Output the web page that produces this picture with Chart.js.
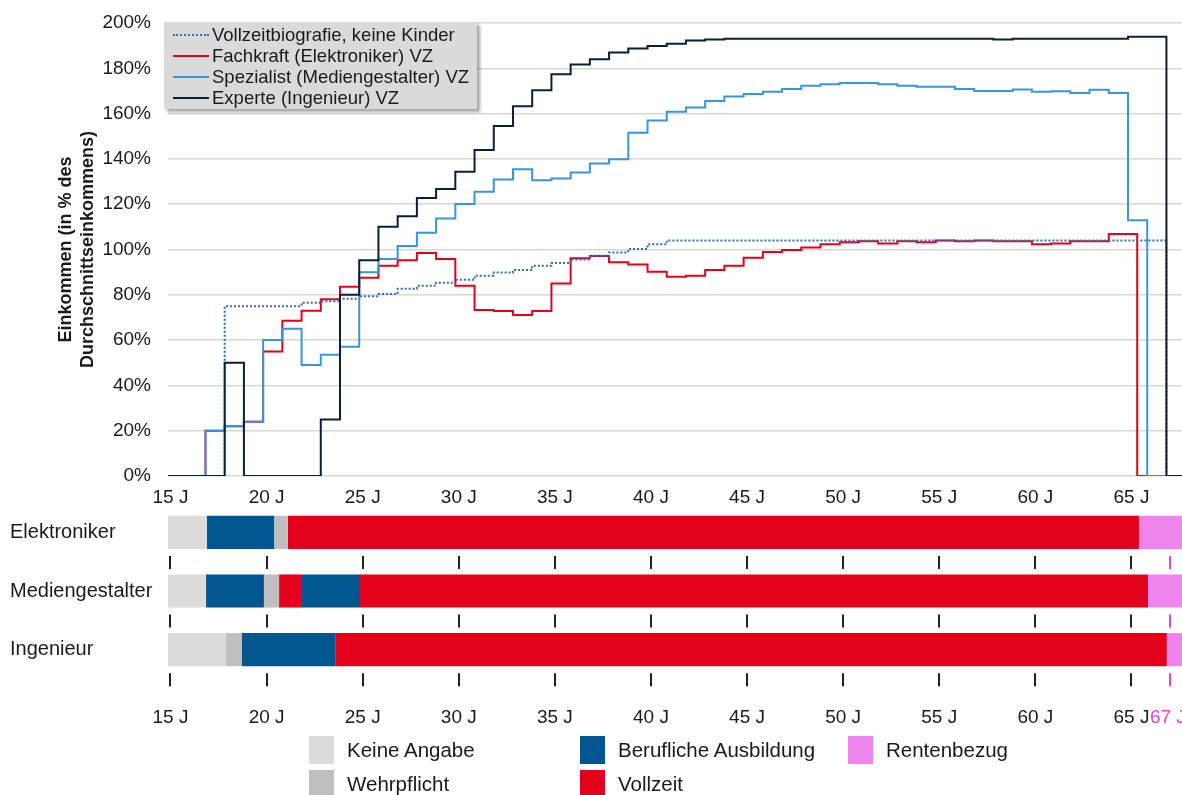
<!DOCTYPE html>
<html lang="de">
<head>
<meta charset="utf-8">
<title>Einkommensverlauf nach Berufsbiografie</title>
<script src="https://cdn.jsdelivr.net/npm/chart.js@4.4.1/dist/chart.umd.min.js"></script>
<style>
  html, body { margin: 0; padding: 0; background: #fff; }
  body {
    width: 1182px; height: 795px; position: relative; overflow: hidden;
    font-family: 'Liberation Sans', Arial, sans-serif; color: #1a1a1a;
  }
  #incomeWrap { position: absolute; left: 0; top: 0; width: 1182px; height: 512px; }
  #phaseWrap { position: absolute; left: 0; top: 503px; width: 1182px; height: 232px; }
  #lineLegend {
    position: absolute; left: 164px; top: 22px; width: 313px; padding: 2px 0 1px 0;
    background: #dadada; box-shadow: 3px 3px 3px rgba(0, 0, 0, 0.35); z-index: 2;
  }
  .legend-row { display: flex; align-items: center; height: 21px; font-size: 18.5px; white-space: nowrap; }
  .legend-line { display: inline-block; width: 36px; margin: 0 3px 0 9px; }
  #phaseLegend {
    position: absolute; left: 309px; top: 733px;
    display: grid; grid-auto-flow: column; grid-template-rows: 34px 34px;
    grid-template-columns: 271px 268px auto;
  }
  .phase-item { display: flex; align-items: center; font-size: 20.5px; white-space: nowrap; }
  .phase-swatch { display: inline-block; width: 25px; height: 28px; margin-right: 13px; }
</style>
</head>
<body>
<div id="incomeWrap"><canvas id="incomeChart" width="1182" height="512"></canvas></div>
<div id="lineLegend"></div>
<div id="phaseWrap"><canvas id="phaseChart" width="1182" height="232"></canvas></div>
<div id="phaseLegend"></div>
<script>
const AGE_MIN = 14.87;
const AGE_MAX = 67.63;
const FONT = "'Liberation Sans', Arial, sans-serif";
const INK = '#1a1a1a';
const PINK = '#f23fc6';

// Alter zu Beginn jedes Kurvenschritts (Jahre)
const stepAges = [
  14.87, 16.82, 17.82, 18.82, 19.82, 20.82, 21.82, 22.82, 23.82, 24.82, 25.82,
  26.82, 27.82, 28.82, 29.82, 30.82, 31.82, 32.82, 33.82, 34.82, 35.82,
  36.82, 37.82, 38.82, 39.82, 40.82, 41.82, 42.82, 43.82, 44.82, 45.82,
  46.82, 47.82, 48.82, 49.82, 50.82, 51.82, 52.82, 53.82, 54.82, 55.82,
  56.82, 57.82, 58.82, 59.82, 60.82, 61.82, 62.82, 63.82, 64.82, 65.82, 66.82
];

// Einkommen in % des Durchschnittseinkommens, je Schritt
const vollzeitbiografie = [
  0, 0, 75, 75, 75, 75, 76.5, 77.1, 78.3, 79.4, 80.3, 82.7, 84, 85.3, 86.6,
  88.4, 89.8, 90.9, 92.8, 94, 95.6, 97.2, 98.7, 100.2, 102.3,
  104, 104, 104, 104, 104, 104, 104, 104, 104, 104, 104, 104, 104,
  104, 104, 104, 104, 104, 104, 104, 104, 104, 104, 104, 104, 104
];
const fachkraft = [
  0, 20, 22, 24, 55, 68.5, 73, 78, 83.5, 87.5, 92.8, 95.3, 98.4, 95.8, 84,
  73.3, 72.8, 71.1, 72.8, 85, 96.1, 97.1, 94.4, 93.4, 90.2, 88, 88.4, 90.9,
  92.8, 96.4, 98.9, 99.8, 100.9, 102.3, 103.2, 103.6, 102.7, 103.6, 103.2,
  104, 103.6, 104, 103.6, 103.6, 102.3, 102.7, 103.6, 103.6, 106.8, 106.8
];
const spezialist = [
  0, 20, 22, 24, 60, 65, 49, 53.5, 57.1, 90, 95.8, 101.5, 107.4, 113.7, 120.1,
  125.5, 130.9, 135.4, 130.6, 131.3, 134, 138, 139.9, 151.5, 157, 160.8,
  162.7, 165.6, 167.5, 168.7, 169.6, 170.9, 172.3, 173, 173.5, 173.5, 173,
  172.3, 171.8, 171.8, 170.9, 170, 170, 170.6, 169.6, 169.9, 169.1, 170.5,
  169.1, 112.9
];
const experte = [
  0, 0, 50, 0, 0, 0, 0, 25, 80, 95.3, 110, 114.7, 122.7, 126.7, 134.3,
  143.9, 154.5, 163.3, 170.3, 177.4, 181.7, 184, 187, 188.7, 189.9, 190.8,
  192.3, 192.7, 193.1, 193.1, 193.1, 193.1, 193.1, 193.1, 193.1, 193.1,
  193.1, 193.1, 193.1, 193.1, 193.1, 193.1, 192.7, 193.1, 193.1, 193.1,
  193.1, 193.1, 193.1, 193.9, 193.9
];

const seriesLabels = [
  'Vollzeitbiografie, keine Kinder',
  'Fachkraft (Elektroniker) VZ',
  'Spezialist (Mediengestalter) VZ',
  'Experte (Ingenieur) VZ'
];
const seriesValues = [vollzeitbiografie, fachkraft, spezialist, experte];
// Alter, ab dem die Kurve auf 0 fällt
const rentenbeginn = [66.82, 65.3, 65.82, 66.82];

const axisAges = [15, 20, 25, 30, 35, 40, 45, 50, 55, 60, 65];
const incomeTicks = [0, 20, 40, 60, 80, 100, 120, 140, 160, 180, 200];
const renteAge = 67;

// Phasen der Erwerbsbiografie
const rowLabels = ['Elektroniker', 'Mediengestalter', 'Ingenieur'];
const phaseNames = ['Keine Angabe', 'Wehrpflicht', 'Berufliche Ausbildung', 'Vollzeit', 'Rentenbezug'];
const elektronikerPhasen = [0, 2, 1, 3, 4];
const elektronikerBis = [16.9, 20.39, 21.11, 65.39, 67.63];
const mediengestalterPhasen = [0, 2, 1, 3, 2, 3, 4];
const mediengestalterBis = [16.85, 19.86, 20.65, 21.84, 24.86, 65.86, 67.63];
const ingenieurPhasen = [0, 1, 2, 3, 4];
const ingenieurBis = [17.89, 18.72, 23.6, 66.84, 67.63];

const seriesStyles = [
  { color: '#2f6ea8', dash: [2, 2], order: 2 },
  { color: '#e2001a', dash: [], order: 3 },
  { color: '#3a95dc', dash: [], order: 1 },
  { color: '#0b2034', dash: [], order: 0 }
];
const phaseColors = ['#dcdcdc', '#bfbfbf', '#00568f', '#e3001b', '#ee85ee'];
const BAR_SHARE = 0.564;

const toSteps = (values, endAge) => {
  const points = values.map((v, i) => ({ x: stepAges[i], y: v }));
  points.push({ x: endAge, y: 0 }, { x: AGE_MAX, y: 0 });
  return points;
};

// keine automatische Randreserve für Achsenbeschriftungen
const noScalePadding = (scale) => {
  scale.paddingTop = 0;
  scale.paddingBottom = 0;
};

const renderIncome = () => {
  const canvas = document.getElementById('incomeChart');
  const datasets = seriesValues.map((values, i) => ({
    label: seriesLabels[i],
    data: toSteps(values, rentenbeginn[i]),
    borderColor: seriesStyles[i].color,
    borderDash: seriesStyles[i].dash,
    borderWidth: 2,
    borderCapStyle: 'butt',
    stepped: true,
    pointRadius: 0,
    fill: false,
    order: seriesStyles[i].order
  }));

  new Chart(canvas, {
    type: 'line',
    data: { datasets },
    options: {
      responsive: false,
      animation: false,
      layout: { padding: { top: 23, bottom: 0, left: 0, right: 0 } },
      scales: {
        x: {
          type: 'linear',
          min: AGE_MIN,
          max: AGE_MAX,
          afterBuildTicks: (scale) => { scale.ticks = axisAges.map((v) => ({ value: v })); },
          afterFit: (scale) => { scale.height = 36; },
          ticks: {
            callback: (v) => v + ' J',
            font: { family: FONT, size: 19 },
            color: INK,
            padding: 10,
            autoSkip: false,
            maxRotation: 0
          },
          grid: { display: false, drawTicks: false },
          border: { display: false }
        },
        y: {
          min: 0,
          max: 200,
          afterBuildTicks: (scale) => { scale.ticks = incomeTicks.map((v) => ({ value: v })); },
          afterFit: (scale) => {
            scale.width = 168;
            noScalePadding(scale);
          },
          ticks: {
            callback: (v) => v + '%',
            font: { family: FONT, size: 19 },
            color: INK,
            padding: 17
          },
          grid: { color: '#d8d8d8', lineWidth: 1.5, drawTicks: false },
          border: { display: false },
          title: {
            display: true,
            text: ['Einkommen (in % des', 'Durchschnittseinkommens)'],
            font: { family: FONT, size: 18, weight: 'bold', lineHeight: 1.22 },
            color: INK,
            padding: { top: 55, bottom: 0 }
          }
        }
      },
      plugins: {
        legend: { display: false },
        tooltip: { enabled: false }
      }
    }
  });

  const legend = document.getElementById('lineLegend');
  seriesLabels.forEach((label, i) => {
    const row = document.createElement('div');
    row.className = 'legend-row';
    const sample = document.createElement('span');
    sample.className = 'legend-line';
    sample.style.borderTop = `2px ${seriesStyles[i].dash.length ? 'dotted' : 'solid'} ${seriesStyles[i].color}`;
    row.appendChild(sample);
    row.appendChild(document.createTextNode(label));
    legend.appendChild(row);
  });
};

const phaseAxisPlugin = {
  id: 'phaseAxis',
  afterDraw(chart) {
    const { ctx, chartArea, scales: { x, y } } = chart;
    const band = y.getPixelForValue(1) - y.getPixelForValue(0);
    const half = (band * BAR_SHARE) / 2;
    const ages = [...axisAges, renteAge];
    ctx.save();
    ctx.lineWidth = 2;
    rowLabels.forEach((_, i) => {
      const top = y.getPixelForValue(i) + half + 7;
      ages.forEach((age) => {
        const px = Math.round(x.getPixelForValue(age));
        ctx.strokeStyle = age === renteAge ? PINK : '#222';
        ctx.beginPath();
        ctx.moveTo(px, top);
        ctx.lineTo(px, top + 13);
        ctx.stroke();
      });
    });
    ctx.font = `19px ${FONT}`;
    ctx.textAlign = 'center';
    ctx.textBaseline = 'middle';
    const labelY = chartArea.bottom + 39;
    ages.forEach((age) => {
      // die Renten-Beschriftung sitzt knapp am rechten Rand
      const px = x.getPixelForValue(age) - (age === renteAge ? 2 : 0);
      ctx.fillStyle = age === renteAge ? PINK : INK;
      ctx.fillText(age + ' J', px, labelY);
    });
    ctx.restore();
  }
};

const renderPhases = () => {
  const canvas = document.getElementById('phaseChart');
  const rows = [
    { phasen: elektronikerPhasen, bis: elektronikerBis },
    { phasen: mediengestalterPhasen, bis: mediengestalterBis },
    { phasen: ingenieurPhasen, bis: ingenieurBis }
  ];
  const datasets = [];
  rows.forEach((row, r) => {
    let from = AGE_MIN;
    row.phasen.forEach((p, k) => {
      const to = row.bis[k];
      datasets.push({
        label: phaseNames[p],
        data: rowLabels.map((_, j) => (j === r ? [from, to] : null)),
        backgroundColor: phaseColors[p],
        borderWidth: 0,
        grouped: false,
        categoryPercentage: 1,
        barPercentage: BAR_SHARE
      });
      from = to;
    });
  });

  new Chart(canvas, {
    type: 'bar',
    data: { labels: rowLabels, datasets },
    options: {
      indexAxis: 'y',
      responsive: false,
      animation: false,
      layout: { padding: { top: 0, bottom: 56, left: 10, right: 0 } },
      scales: {
        x: { type: 'linear', min: AGE_MIN, max: AGE_MAX, display: false },
        y: {
          afterFit: (scale) => {
            scale.width = 158;
            noScalePadding(scale);
          },
          ticks: {
            crossAlign: 'far',
            font: { family: FONT, size: 20 },
            color: INK
          },
          grid: { display: false },
          border: { display: false }
        }
      },
      plugins: {
        legend: { display: false },
        tooltip: { enabled: false }
      }
    },
    plugins: [phaseAxisPlugin]
  });

  const legend = document.getElementById('phaseLegend');
  phaseNames.forEach((name, i) => {
    const item = document.createElement('div');
    item.className = 'phase-item';
    const swatch = document.createElement('span');
    swatch.className = 'phase-swatch';
    swatch.style.background = phaseColors[i];
    item.appendChild(swatch);
    item.appendChild(document.createTextNode(name));
    legend.appendChild(item);
  });
};

renderIncome();
renderPhases();
</script>
</body>
</html>
